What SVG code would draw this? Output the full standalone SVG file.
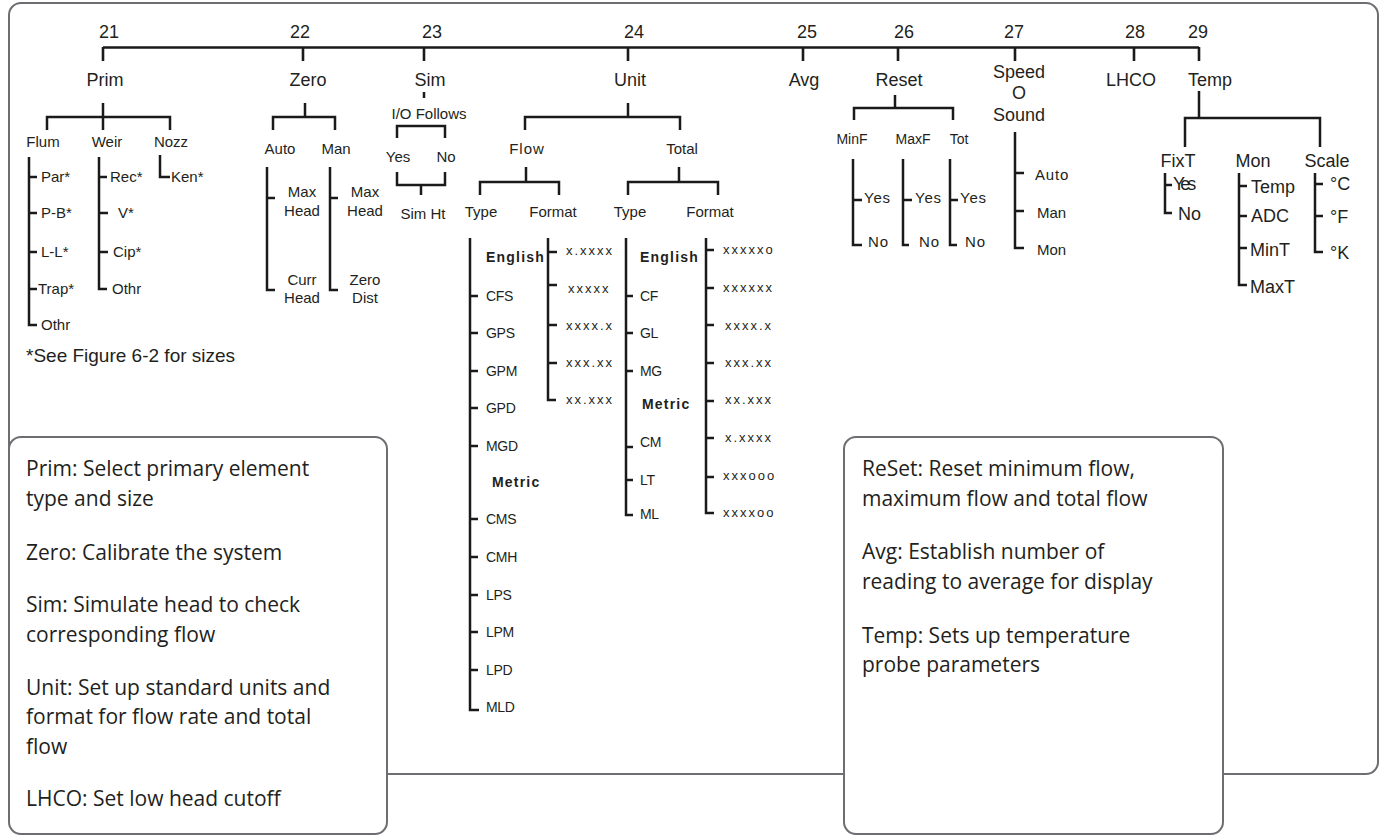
<svg xmlns="http://www.w3.org/2000/svg" width="1382" height="836" viewBox="0 0 1382 836">
<style>
.box{fill:#fff;stroke:#6d6e71;stroke-width:2}
.ln{fill:none;stroke:#1a1a1a;stroke-width:2.5}
.top{fill:none;stroke:#1a1a1a;stroke-width:2.6}
text{font-family:"Liberation Sans",Arial,sans-serif;fill:#231f20}
.h{font-size:18px;text-anchor:middle}
.m{font-size:15px;text-anchor:middle}
.s{font-size:15px}
.u{font-size:14px;letter-spacing:-0.3px}
.b{font-size:14px;font-weight:bold;letter-spacing:1.2px}
.x{font-size:13px;letter-spacing:2px}
.r{font-size:14px;text-anchor:middle}
.y{font-size:15px;letter-spacing:0.8px}
.t18{font-size:18px}
.d{font-family:"Open Sans","Liberation Sans",sans-serif;font-size:21px}
</style>
<rect class="box" x="9" y="3" width="1369" height="771" rx="12"/>
<g id="connectors">
<path class="top" d="M103,47.5 H1199 M103,47 V61 M303,47 V61 M424,47 V61 M628,47 V61 M803,47 V61 M898,47 V61 M1015,47 V61 M1134,47 V61 M1199,47 V61"/>
<path class="ln" d="M103,103 V130 M47,130 V117 H170 V130 M29,157 V325 H37 M29,177 H37 M29,213 H37 M29,252 H37 M29,289 H37 M99,157 V289 H107 M99,177 H107 M99,213 H108 M99,252 H108 M160,155 V177 H170"/>
<path class="ln" d="M305,103 V117 M273,130 V117 H335 V130 M267,167 V290 H275 M267,198 H275 M330,167 V290 H338 M330,198 H338"/>
<path class="ln" d="M424,92 V98 M397,138 V126 H445 V138 M397,172 V185 H445 V172 M421,185 V195"/>
<path class="ln" d="M628,103 V117 M525,130 V117 H680 V130 M526,167 V182 M480,195 V182 H559 V195 M679,167 V182 M628,195 V182 H718 V195"/>
<path class="ln" d="M470,238 V710 H479 M470,296 H478 M470,333 H478 M470,371 H478 M470,408 H478 M470,446 H478 M470,519 H478 M470,557 H478 M470,595 H478 M470,632 H478 M470,670 H478"/>
<path class="ln" d="M548,238 V400 H556 M548,252 H557 M548,285 H557 M548,325 H557 M548,363 H557"/>
<path class="ln" d="M626,238 V515 H633 M626,296 H633 M626,333 H633 M626,371 H633 M626,447 H633 M626,480 H633"/>
<path class="ln" d="M706,238 V513 H714 M706,250 H714 M706,288 H714 M706,325 H714 M706,363 H714 M706,401 H714 M706,438 H714 M706,477 H714"/>
<path class="ln" d="M895,95 V108 M854,120 V108 H953 V120 M853,159 V245 H862 M853,200 H862 M903,159 V245 H909 M903,200 H912 M950,159 V245 H957 M950,200 H958"/>
<path class="ln" d="M1015,132 V248 H1024 M1015,173 H1024 M1015,211 H1024"/>
<path class="ln" d="M1199,91 V118 M1185,147 V118 H1320 V147 M1165,173 V213 H1172 M1165,185 H1172 M1239,173 V285 H1247 M1239,186 H1247 M1239,216 H1247 M1239,248 H1247 M1315,173 V252 H1323 M1315,184 H1323 M1315,216 H1323"/>
</g>
<g id="numbers">
<g id="num21"><text class="h" x="109" y="38">21</text></g>
<g id="num22"><text class="h" x="300" y="38">22</text></g>
<g id="num23"><text class="h" x="432" y="38">23</text></g>
<g id="num24"><text class="h" x="634" y="38">24</text></g>
<g id="num25"><text class="h" x="807" y="38">25</text></g>
<g id="num26"><text class="h" x="904" y="38">26</text></g>
<g id="num27"><text class="h" x="1014" y="38">27</text></g>
<g id="num28"><text class="h" x="1135" y="38">28</text></g>
<g id="num29"><text class="h" x="1198" y="38">29</text></g>
</g>
<g id="prim"><text class="h" x="105" y="86">Prim</text></g>
<g id="zero"><text class="h" x="308" y="86">Zero</text></g>
<g id="sim"><text class="h" x="430" y="86">Sim</text></g>
<g id="unit"><text class="h" x="630" y="86">Unit</text></g>
<g id="avg"><text class="h" x="804" y="86">Avg</text></g>
<g id="reset"><text class="h" x="899" y="86">Reset</text></g>
<g id="speed"><text class="h" x="1019" y="78">Speed</text><text class="h" x="1019" y="99">O</text><text class="h" x="1019" y="121">Sound</text></g>
<g id="lhco"><text class="h" x="1131" y="86">LHCO</text></g>
<g id="temp"><text class="h" x="1210" y="86">Temp</text></g>

<g id="flum"><text class="m" x="43" y="147">Flum</text></g>
<g id="weir"><text class="m" x="107" y="147">Weir</text></g>
<g id="nozz"><text class="m" x="171" y="147">Nozz</text></g>
<g id="flum-items">
<g id="par"><text class="s" x="41" y="182">Par*</text></g>
<g id="pb"><text class="s" x="41" y="218">P-B*</text></g>
<g id="ll"><text class="s" x="41" y="257">L-L*</text></g>
<g id="trap"><text class="s" x="38" y="294">Trap*</text></g>
<g id="othr1"><text class="s" x="41" y="330">Othr</text></g>
</g>
<g id="weir-items">
<g id="rec"><text class="s" x="110" y="182">Rec*</text></g>
<g id="v"><text class="s" x="118" y="218">V*</text></g>
<g id="cip"><text class="s" x="113" y="257">Cip*</text></g>
<g id="othr2"><text class="s" x="112" y="294">Othr</text></g>
</g>
<g id="ken"><text class="s" x="171" y="182">Ken*</text></g>
<g id="footnote"><text x="26" y="362" style="font-size:19px">*See Figure 6-2 for sizes</text></g>

<g id="auto"><text class="m" x="280" y="154">Auto</text></g>
<g id="man"><text class="m" x="336" y="154">Man</text></g>
<g id="auto-maxhead"><text class="m" x="302" y="197">Max</text><text class="m" x="302" y="216">Head</text></g>
<g id="auto-currhead"><text class="m" x="302" y="285">Curr</text><text class="m" x="302" y="303">Head</text></g>
<g id="man-maxhead"><text class="m" x="365" y="197">Max</text><text class="m" x="365" y="216">Head</text></g>
<g id="man-zerodist"><text class="m" x="365" y="285">Zero</text><text class="m" x="365" y="303">Dist</text></g>

<g id="io"><text class="m" x="429" y="119">I/O Follows</text></g>
<g id="sim-yes"><text class="m" x="398" y="162">Yes</text></g>
<g id="sim-no"><text class="m" x="446" y="162">No</text></g>
<g id="simht"><text class="m" x="423" y="219">Sim Ht</text></g>

<g id="flow"><text class="m" x="527" y="154" style="letter-spacing:1px">Flow</text></g>
<g id="total"><text class="m" x="682" y="154">Total</text></g>
<g id="flow-type"><text class="m" x="481" y="217">Type</text></g>
<g id="flow-format"><text class="m" x="553" y="217">Format</text></g>
<g id="total-type"><text class="m" x="630" y="217">Type</text></g>
<g id="total-format"><text class="m" x="710" y="217">Format</text></g>

<g id="flow-type-items">
<g id="ft-english"><text class="b" x="486" y="262">English</text></g>
<g id="ft-cfs"><text class="u" x="486" y="301">CFS</text></g>
<g id="ft-gps"><text class="u" x="486" y="338">GPS</text></g>
<g id="ft-gpm"><text class="u" x="486" y="376">GPM</text></g>
<g id="ft-gpd"><text class="u" x="486" y="413">GPD</text></g>
<g id="ft-mgd"><text class="u" x="486" y="451">MGD</text></g>
<g id="ft-metric"><text class="b" x="492" y="487">Metric</text></g>
<g id="ft-cms"><text class="u" x="486" y="524">CMS</text></g>
<g id="ft-cmh"><text class="u" x="486" y="562">CMH</text></g>
<g id="ft-lps"><text class="u" x="486" y="600">LPS</text></g>
<g id="ft-lpm"><text class="u" x="486" y="637">LPM</text></g>
<g id="ft-lpd"><text class="u" x="486" y="675">LPD</text></g>
<g id="ft-mld"><text class="u" x="486" y="712">MLD</text></g>
</g>
<g id="flow-format-items">
<g id="ff-1"><text class="x" x="566" y="255">x.xxxx</text></g>
<g id="ff-2"><text class="x" x="568" y="293">xxxxx</text></g>
<g id="ff-3"><text class="x" x="566" y="330">xxxx.x</text></g>
<g id="ff-4"><text class="x" x="566" y="367">xxx.xx</text></g>
<g id="ff-5"><text class="x" x="566" y="404">xx.xxx</text></g>
</g>
<g id="total-type-items">
<g id="tt-english"><text class="b" x="640" y="262">English</text></g>
<g id="tt-cf"><text class="u" x="640" y="301">CF</text></g>
<g id="tt-gl"><text class="u" x="640" y="338">GL</text></g>
<g id="tt-mg"><text class="u" x="640" y="376">MG</text></g>
<g id="tt-metric"><text class="b" x="642" y="409">Metric</text></g>
<g id="tt-cm"><text class="u" x="640" y="447">CM</text></g>
<g id="tt-lt"><text class="u" x="640" y="485">LT</text></g>
<g id="tt-ml"><text class="u" x="640" y="519">ML</text></g>
</g>
<g id="total-format-items">
<g id="tf-1"><text class="x" x="723" y="254">xxxxxo</text></g>
<g id="tf-2"><text class="x" x="723" y="292">xxxxxx</text></g>
<g id="tf-3"><text class="x" x="725" y="330">xxxx.x</text></g>
<g id="tf-4"><text class="x" x="725" y="367">xxx.xx</text></g>
<g id="tf-5"><text class="x" x="725" y="404">xx.xxx</text></g>
<g id="tf-6"><text class="x" x="725" y="442">x.xxxx</text></g>
<g id="tf-7"><text class="x" x="723" y="480">xxxooo</text></g>
<g id="tf-8"><text class="x" x="723" y="517">xxxxoo</text></g>
</g>

<g id="minf"><text class="r" x="852" y="144">MinF</text></g>
<g id="maxf"><text class="r" x="913" y="144">MaxF</text></g>
<g id="tot"><text class="r" x="959" y="144">Tot</text></g>
<g id="minf-yes"><text class="y" x="864" y="203">Yes</text></g>
<g id="minf-no"><text class="y" x="868" y="247">No</text></g>
<g id="maxf-yes"><text class="y" x="915" y="203">Yes</text></g>
<g id="maxf-no"><text class="y" x="919" y="247">No</text></g>
<g id="tot-yes"><text class="y" x="960" y="203">Yes</text></g>
<g id="tot-no"><text class="y" x="965" y="247">No</text></g>

<g id="sp-auto"><text class="y" x="1035" y="180">Auto</text></g>
<g id="sp-man"><text class="s" x="1037" y="218">Man</text></g>
<g id="sp-mon"><text class="s" x="1037" y="255">Mon</text></g>

<g id="fixt"><text class="h" x="1178" y="167">FixT</text></g>
<g id="mon"><text class="h" x="1253" y="167">Mon</text></g>
<g id="scale"><text class="h" x="1327" y="167">Scale</text></g>
<g id="fixt-yes"><text class="t18" x="1173" y="190" style="letter-spacing:-3px">Yes</text></g>
<g id="fixt-no"><text class="t18" x="1178" y="220">No</text></g>
<g id="mon-temp"><text class="t18" x="1251" y="193">Temp</text></g>
<g id="mon-adc"><text class="t18" x="1251" y="222">ADC</text></g>
<g id="mon-mint"><text class="t18" x="1250" y="256">MinT</text></g>
<g id="mon-maxt"><text class="t18" x="1250" y="293">MaxT</text></g>
<g id="sc-c"><text class="t18" x="1330" y="190">°C</text></g>
<g id="sc-f"><text class="t18" x="1330" y="223">°F</text></g>
<g id="sc-k"><text class="t18" x="1330" y="259">°K</text></g>

<g id="legend-left">
<rect class="box" x="9" y="437" width="378" height="397" rx="12"/>
<text class="d" x="26" y="476">Prim: Select primary element</text>
<text class="d" x="26" y="506">type and size</text>
<text class="d" x="26" y="560">Zero: Calibrate the system</text>
<text class="d" x="26" y="612">Sim: Simulate head to check</text>
<text class="d" x="26" y="642">corresponding flow</text>
<text class="d" x="26" y="695">Unit: Set up standard units and</text>
<text class="d" x="26" y="724">format for flow rate and total</text>
<text class="d" x="26" y="754">flow</text>
<text class="d" x="26" y="806">LHCO: Set low head cutoff</text>
</g>
<g id="legend-right">
<rect class="box" x="844" y="437" width="379" height="397" rx="12"/>
<text class="d" x="862" y="476">ReSet: Reset minimum flow,</text>
<text class="d" x="862" y="506">maximum flow and total flow</text>
<text class="d" x="862" y="559">Avg: Establish number of</text>
<text class="d" x="862" y="589">reading to average for display</text>
<text class="d" x="862" y="643">Temp: Sets up temperature</text>
<text class="d" x="862" y="672">probe parameters</text>
</g>
</svg>
